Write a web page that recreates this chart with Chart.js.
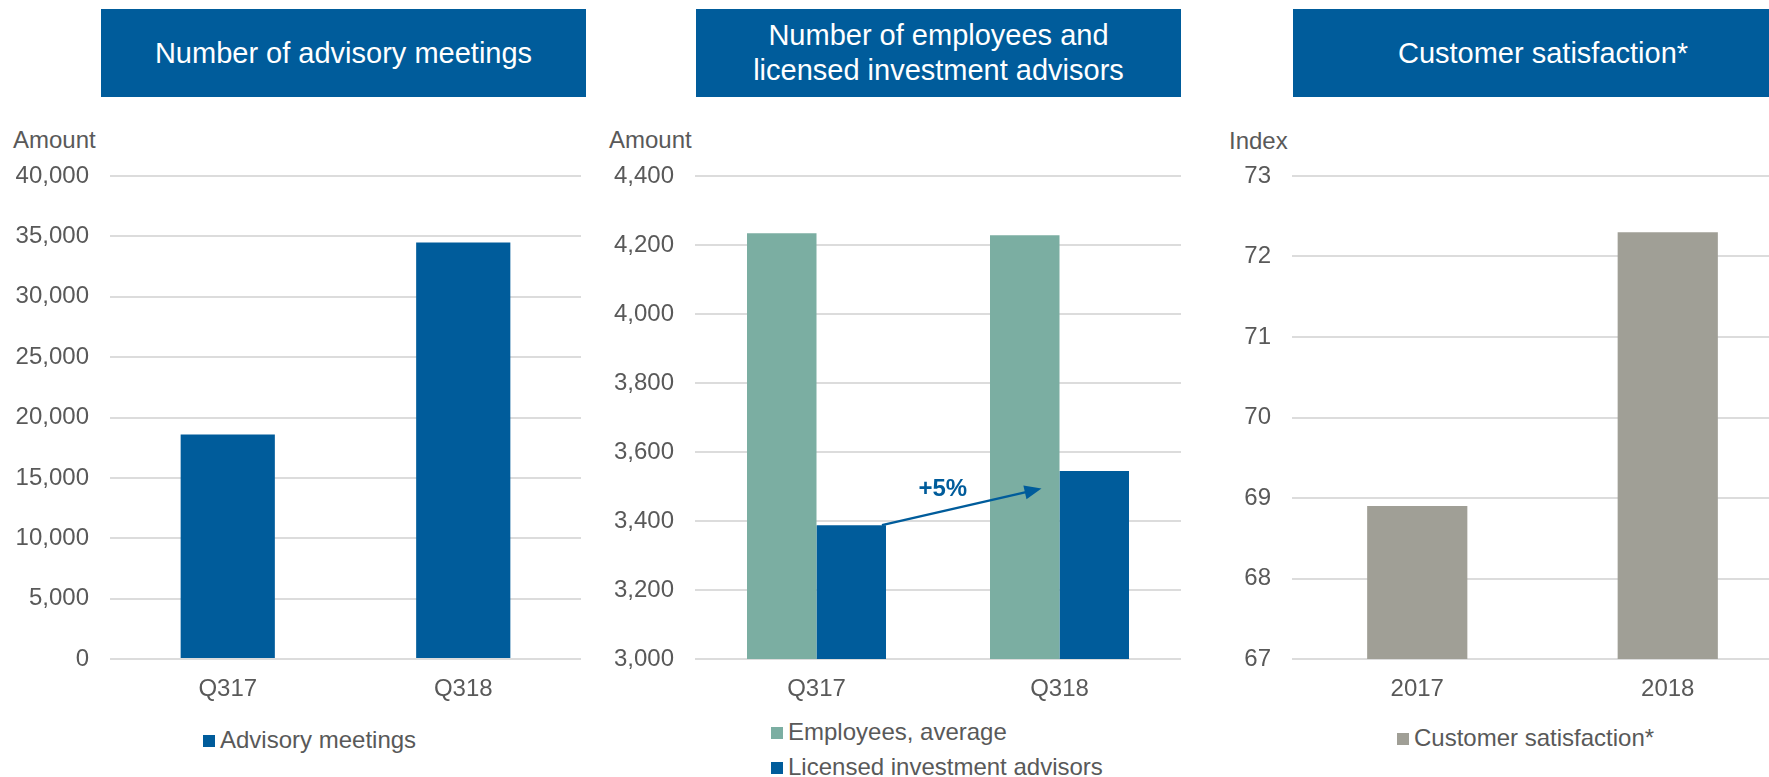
<!DOCTYPE html>
<html>
<head>
<meta charset="utf-8">
<script src="https://cdn.jsdelivr.net/npm/chart.js@4/dist/chart.umd.min.js"></script>
<style>
    html, body { margin: 0; padding: 0; background: #fff; }
    body { width: 1769px; height: 777px; overflow: hidden; position: relative;
           font-family: "Liberation Sans", Arial, sans-serif; color: #595959; }
    .title { position: absolute; background: #005c9b; color: #fff; font-size: 29px;
             display: flex; align-items: center; justify-content: center; text-align: center; line-height: 35px; }
    .unit { position: absolute; font-size: 24px; line-height: 28px; }
    .box { position: absolute; line-height: 0; }
    .box canvas { display: block; }
    .legend { position: absolute; font-size: 24px; }
    .legend div { height: 35px; line-height: 35px; white-space: nowrap; }
    .legend span { display: inline-block; width: 12px; height: 12px; margin-right: 5px; vertical-align: 1px; }
</style>
</head>
<body>

<div class="title" style="left:101px;top:9px;width:485px;height:88px">Number of advisory meetings</div>
<div class="title" style="left:696px;top:9px;width:485px;height:88px">Number of employees and<br>licensed investment advisors</div>
<div class="title" style="left:1293px;top:9px;width:500px;height:88px">Customer satisfaction*</div>

<div class="unit" style="left:13px;top:126px">Amount</div>
<div class="unit" style="left:609px;top:126px">Amount</div>
<div class="unit" style="left:1229px;top:127px">Index</div>

<div class="box" style="left:0px;top:150px"><canvas id="meetings" width="600" height="560"></canvas></div>
<div class="box" style="left:600px;top:150px"><canvas id="staff" width="600" height="560"></canvas></div>
<div class="box" style="left:1190px;top:150px"><canvas id="satisfaction" width="603" height="560"></canvas></div>

<div class="legend" id="legend-meetings" style="left:203px;top:722px"></div>
<div class="legend" id="legend-staff" style="left:771px;top:714px"></div>
<div class="legend" id="legend-satisfaction" style="left:1397px;top:720px"></div>

<script>
// data
var quarters = ['Q317', 'Q318'];
var years = ['2017', '2018'];

var advisoryMeetings = [18600, 34500];
var employeesAverage = [4234, 4228];
var licensedAdvisors = [3388, 3545];
var satisfactionIndex = [68.9, 72.3];

// y axis ranges: [min, max, step]
var meetingsTicks = [0, 40000, 5000];
var staffTicks = [3000, 4400, 200];
var satisfactionTicks = [67, 73, 1];

var blue = '#005c9b';
var teal = '#7baea2';
var grey = '#a09f96';
var textGrey = '#595959';
var gridGrey = '#dcdcdc';

Chart.defaults.font.family = '"Liberation Sans", Arial, sans-serif';
Chart.defaults.font.size = 24;
Chart.defaults.color = textGrey;

function axes(range, yWidth) {
    return {
        x: {
            grid: { display: false, drawTicks: false },
            border: { display: false },
            ticks: { padding: 16, color: textGrey },
            afterFit: function(scale) { scale.height = 51; }
        },
        y: {
            min: range[0],
            max: range[1],
            grid: { color: gridGrey, lineWidth: 2, drawTicks: false },
            border: { display: false },
            ticks: { stepSize: range[2], padding: 21, color: textGrey },
            afterFit: function(scale) {
                scale.width = yWidth;
                // top/bottom room is handled by layout padding
                scale.paddingTop = 0;
                scale.paddingBottom = 0;
            }
        }
    };
}

function baseOptions(range, yWidth, padRight) {
    return {
        responsive: false,
        animation: false,
        layout: { padding: { top: 26, right: padRight, left: 0, bottom: 0 } },
        plugins: { legend: { display: false }, tooltip: { enabled: false } },
        scales: axes(range, yWidth)
    };
}

// arrow from Q317 advisors bar to Q318 with the growth label
var growthArrow = {
    id: 'growthArrow',
    afterDatasetsDraw: function(chart) {
        var ctx = chart.ctx;
        var from = chart.getDatasetMeta(1).data[0];
        var y = chart.scales.y;
        var x0 = from.x + from.width / 2 - 4;
        var y0 = y.getPixelForValue(licensedAdvisors[0]);
        var x1 = chart.scales.x.getPixelForValue(1) - 18;
        var y1 = y.getPixelForValue(3494);
        var ang = Math.atan2(y1 - y0, x1 - x0);
        var head = 17;

        ctx.save();
        ctx.strokeStyle = blue;
        ctx.fillStyle = blue;
        ctx.lineWidth = 2.5;
        ctx.beginPath();
        ctx.moveTo(x0, y0);
        ctx.lineTo(x1 - head * Math.cos(ang) * 0.8, y1 - head * Math.sin(ang) * 0.8);
        ctx.stroke();
        ctx.beginPath();
        ctx.moveTo(x1, y1);
        ctx.lineTo(x1 - head * Math.cos(ang) + 7 * Math.sin(ang), y1 - head * Math.sin(ang) - 7 * Math.cos(ang));
        ctx.lineTo(x1 - head * Math.cos(ang) - 7 * Math.sin(ang), y1 - head * Math.sin(ang) + 7 * Math.cos(ang));
        ctx.closePath();
        ctx.fill();

        var pct = Math.round((licensedAdvisors[1] / licensedAdvisors[0] - 1) * 100);
        ctx.font = 'bold 24px "Liberation Sans", Arial, sans-serif';
        ctx.textAlign = 'center';
        ctx.textBaseline = 'middle';
        ctx.fillText('+' + pct + '%', (x0 + x1) / 2 - 19, y1 + 1);
        ctx.restore();
    }
};

// left-aligned legend rows under each chart
function buildLegend(id, chart) {
    var el = document.getElementById(id);
    chart.data.datasets.forEach(function(ds) {
        var row = document.createElement('div');
        var sw = document.createElement('span');
        sw.style.background = ds.backgroundColor;
        row.appendChild(sw);
        row.appendChild(document.createTextNode(ds.label));
        el.appendChild(row);
    });
}

var meetingsChart = new Chart(document.getElementById('meetings'), {
    type: 'bar',
    data: {
        labels: quarters,
        datasets: [{
            label: 'Advisory meetings',
            data: advisoryMeetings,
            backgroundColor: blue,
            barPercentage: 0.4,
            categoryPercentage: 1
        }]
    },
    options: baseOptions(meetingsTicks, 110, 19)
});

var staffChart = new Chart(document.getElementById('staff'), {
    type: 'bar',
    data: {
        labels: quarters,
        datasets: [{
            label: 'Employees, average',
            data: employeesAverage,
            backgroundColor: teal,
            barPercentage: 1,
            categoryPercentage: 0.572
        }, {
            label: 'Licensed investment advisors',
            data: licensedAdvisors,
            backgroundColor: blue,
            barPercentage: 1,
            categoryPercentage: 0.572
        }]
    },
    options: baseOptions(staffTicks, 95, 19),
    plugins: [growthArrow]
});

var satisfactionChart = new Chart(document.getElementById('satisfaction'), {
    type: 'bar',
    data: {
        labels: years,
        datasets: [{
            label: 'Customer satisfaction*',
            data: satisfactionIndex,
            backgroundColor: grey,
            barPercentage: 0.4,
            categoryPercentage: 1
        }]
    },
    options: baseOptions(satisfactionTicks, 102, 0)
});

buildLegend('legend-meetings', meetingsChart);
buildLegend('legend-staff', staffChart);
buildLegend('legend-satisfaction', satisfactionChart);
</script>
</body>
</html>
